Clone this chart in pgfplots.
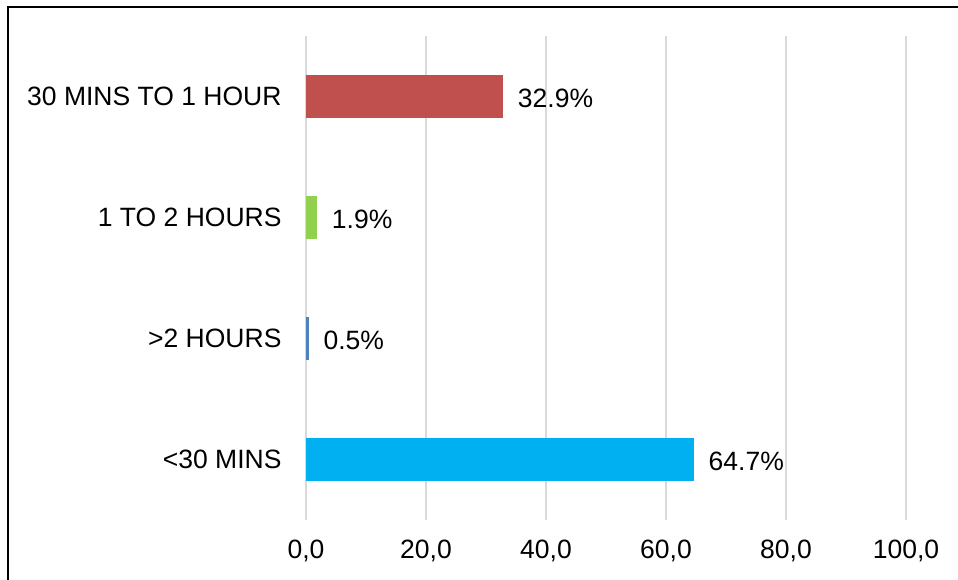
\documentclass[border=0pt]{standalone}
\usepackage{pgfplots}
\pgfplotsset{compat=1.18}
\usepackage{fontspec}
\setmainfont{Liberation Sans}
\definecolor{barred}{HTML}{C0504D}
\definecolor{bargreen}{HTML}{92D050}
\definecolor{barblue}{HTML}{4F81BD}
\definecolor{barcyan}{HTML}{00B0F0}
\definecolor{gridgrey}{HTML}{D9D9D9}
\newcommand{\lbl}{\fontsize{26.5}{30}\selectfont}
\begin{document}
\begin{tikzpicture}
\path[use as bounding box] (0pt,0pt) rectangle (958pt,580pt);
\draw[line width=2pt] (8pt,-20pt) -- (8pt,573pt) -- (990pt,573pt);
\begin{axis}[
  at={(306pt,60pt)}, anchor=south west,
  scale only axis, width=600pt, height=484pt,
  xmin=0, xmax=100, ymin=0.5, ymax=4.5,
  xbar, bar shift=0pt, bar width=43pt,
  axis line style={draw=none},
  major tick length=0pt,
  xmajorgrids, grid style={gridgrey, line width=1.5pt},
  xtick={0,20,...,100},
  ytick={1,2,3,4},
  yticklabels={{<30 MINS},{>2 HOURS},{1 TO 2 HOURS},{30 MINS TO 1 HOUR}},
  /pgf/number format/assume math mode=true,
  xticklabel={\pgfmathprintnumber[fixed,fixed zerofill,precision=1,use comma]{\tick}},
  xticklabel style={font=\lbl, yshift=-16pt},
  yticklabel style={font=\lbl, xshift=-21pt},
  nodes near coords={\pgfmathprintnumber[fixed,fixed zerofill,precision=1]{\pgfplotspointmeta}\%},
  every node near coord/.append style={font=\lbl, black, xshift=11pt, yshift=-2pt},
]
\addplot[draw=none, fill=barcyan] coordinates {(64.7,1)};
\addplot[draw=none, fill=barblue] coordinates {(0.5,2)};
\addplot[draw=none, fill=bargreen] coordinates {(1.9,3)};
\addplot[draw=none, fill=barred] coordinates {(32.9,4)};
\end{axis}
\end{tikzpicture}
\end{document}
